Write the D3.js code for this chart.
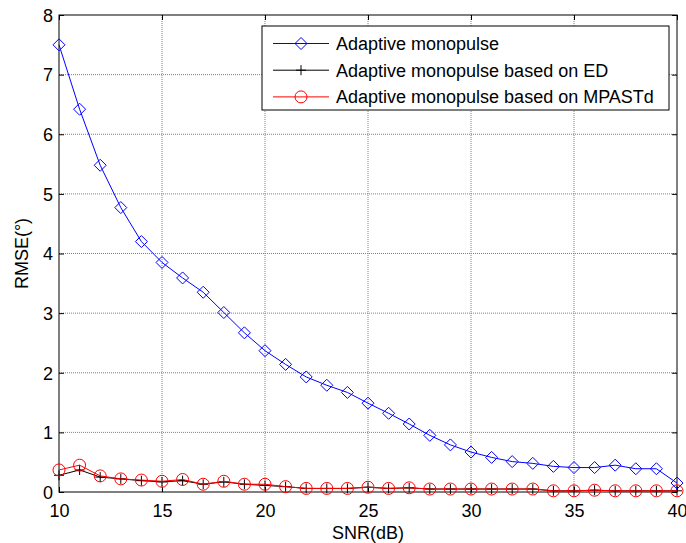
<!DOCTYPE html>
<html>
<head>
<meta charset="utf-8">
<script src="https://cdn.jsdelivr.net/npm/d3@7"></script>
<style>
  body { margin: 0; background: #fff; }
  svg text { font-family: Arial, "Liberation Sans", sans-serif; fill: #000; }
</style>
</head>
<body>
<div id="chart"></div>
<script>
// Datos
const snr = d3.range(10, 41);
const rmseAdaptive = [7.5, 6.42, 5.48, 4.77, 4.2, 3.85, 3.59, 3.35, 3.01, 2.67, 2.37, 2.14, 1.93, 1.79, 1.67, 1.49,
  1.32, 1.14, 0.95, 0.79, 0.67, 0.58, 0.51, 0.48, 0.43, 0.41, 0.41, 0.45, 0.39, 0.39, 0.15];
const rmseED = [0.28, 0.37, 0.25, 0.22, 0.19, 0.17, 0.19, 0.13, 0.17, 0.13, 0.11, 0.09, 0.06, 0.06, 0.06, 0.08,
  0.06, 0.07, 0.05, 0.05, 0.05, 0.05, 0.05, 0.05, 0.02, 0.02, 0.03, 0.02, 0.02, 0.02, 0.02];
const rmseMPASTd = [0.37, 0.45, 0.27, 0.22, 0.2, 0.18, 0.21, 0.13, 0.18, 0.13, 0.13, 0.09, 0.06, 0.06, 0.06, 0.08,
  0.06, 0.07, 0.05, 0.05, 0.05, 0.05, 0.05, 0.05, 0.02, 0.02, 0.03, 0.02, 0.02, 0.02, 0.02];
const xTicks = [10, 15, 20, 25, 30, 35, 40];
const yTicks = [0, 1, 2, 3, 4, 5, 6, 7, 8];
const seriesNames = ["Adaptive monopulse", "Adaptive monopulse based on ED", "Adaptive monopulse based on MPASTd"];

const W = 686, H = 543;
const margin = { top: 15, right: 9, bottom: 51, left: 59 };
const width = W - margin.left - margin.right;
const height = H - margin.top - margin.bottom;

const svg = d3.select("#chart").append("svg").attr("width", W).attr("height", H);
const g = svg.append("g").attr("transform", `translate(${margin.left},${margin.top})`);

const x = d3.scaleLinear().domain([10, 40]).range([0, width]);
const y = d3.scaleLinear().domain([0, 8]).range([height, 0]);

// Rejilla
g.append("g").selectAll("line").data(xTicks.slice(1, -1)).join("line")
  .attr("x1", d => x(d)).attr("x2", d => x(d)).attr("y1", 0).attr("y2", height)
  .attr("stroke", "#808080").attr("stroke-width", 1).attr("stroke-dasharray", "1,1");
g.append("g").selectAll("line").data(yTicks.slice(1, -1)).join("line")
  .attr("y1", d => y(d)).attr("y2", d => y(d)).attr("x1", 0).attr("x2", width)
  .attr("stroke", "#808080").attr("stroke-width", 1).attr("stroke-dasharray", "1,1");

// Ejes (ticks hacia dentro en los cuatro lados)
const tickLen = 5;
const axB = g.append("g").attr("transform", `translate(0,${height})`)
  .call(d3.axisBottom(x).tickValues(xTicks).tickSizeInner(-tickLen).tickSizeOuter(0).tickPadding(12));
const axT = g.append("g")
  .call(d3.axisTop(x).tickValues(xTicks).tickSizeInner(-tickLen).tickSizeOuter(0).tickFormat(""));
const axL = g.append("g")
  .call(d3.axisLeft(y).tickValues(yTicks).tickSizeInner(-tickLen).tickSizeOuter(0).tickPadding(6));
const axR = g.append("g").attr("transform", `translate(${width},0)`)
  .call(d3.axisRight(y).tickValues(yTicks).tickSizeInner(-tickLen).tickSizeOuter(0).tickFormat(""));
[axB, axT, axL, axR].forEach(a => {
  a.select(".domain").remove();
  a.selectAll("line").attr("stroke", "#000");
  a.selectAll("text").attr("font-size", 18).attr("font-family", "Arial, 'Liberation Sans', sans-serif");
});
axL.selectAll("text").attr("dy", "0.35em");

g.append("rect").attr("width", width).attr("height", height)
  .attr("fill", "none").attr("stroke", "#000").attr("stroke-width", 1);

// Etiquetas de ejes
g.append("text").attr("x", width / 2).attr("y", height + 47)
  .attr("text-anchor", "middle").attr("font-size", 18).text("SNR(dB)");
g.append("text").attr("transform", `translate(-31,${height / 2}) rotate(-90)`)
  .attr("text-anchor", "middle").attr("font-size", 18).text("RMSE(°)");

const line = d3.line().x((d, i) => x(snr[i])).y(d => y(d));

function diamond(sel, color, r) {
  sel.attr("d", `M0,${-r}L${r},0L0,${r}L${-r},0Z`).attr("fill", "none").attr("stroke", color).attr("stroke-width", 1);
}
function plus(sel, color, r) {
  sel.attr("d", `M${-r},0H${r}M0,${-r}V${r}`).attr("fill", "none").attr("stroke", color).attr("stroke-width", 1);
}

// Serie ED (negra)
g.append("path").datum(rmseED).attr("d", line).attr("fill", "none").attr("stroke", "#000").attr("stroke-width", 1);
g.selectAll(".m-ed").data(rmseED).join("path").attr("class", "m-ed")
  .attr("transform", (d, i) => `translate(${x(snr[i])},${y(d)})`).call(plus, "#000", 5);

// Serie MPASTd (roja)
g.append("path").datum(rmseMPASTd).attr("d", line).attr("fill", "none").attr("stroke", "#ff0000").attr("stroke-width", 1);
g.selectAll(".m-mp").data(rmseMPASTd).join("circle").attr("class", "m-mp")
  .attr("cx", (d, i) => x(snr[i])).attr("cy", d => y(d)).attr("r", 6)
  .attr("fill", "none").attr("stroke", "#ff0000").attr("stroke-width", 1);

// Serie adaptativa (azul)
g.append("path").datum(rmseAdaptive).attr("d", line).attr("fill", "none").attr("stroke", "#0000ff").attr("stroke-width", 1);
g.selectAll(".m-ad").data(rmseAdaptive).join("path").attr("class", "m-ad")
  .attr("transform", (d, i) => `translate(${x(snr[i])},${y(d)})`).call(diamond, "#0000ff", 6);

// Leyenda
const lg = svg.append("g").attr("transform", "translate(262,26)");
lg.append("rect").attr("width", 407).attr("height", 84).attr("fill", "#fff").attr("stroke", "#000").attr("stroke-width", 1);
const colors = ["#0000ff", "#000", "#ff0000"];
seriesNames.forEach((name, i) => {
  const cy = 17.5 + i * 26.7;
  lg.append("line").attr("x1", 11).attr("x2", 67).attr("y1", cy).attr("y2", cy).attr("stroke", colors[i]);
  const m = lg.append(i === 2 ? "circle" : "path");
  if (i === 0) m.attr("transform", `translate(39,${cy})`).call(diamond, colors[i], 6);
  else if (i === 1) m.attr("transform", `translate(39,${cy})`).call(plus, colors[i], 5);
  else m.attr("cx", 39).attr("cy", cy).attr("r", 6).attr("fill", "none").attr("stroke", colors[i]);
  lg.append("text").attr("x", 74).attr("y", cy).attr("dy", "0.35em").attr("font-size", 18).text(name);
});
</script>
</body>
</html>
